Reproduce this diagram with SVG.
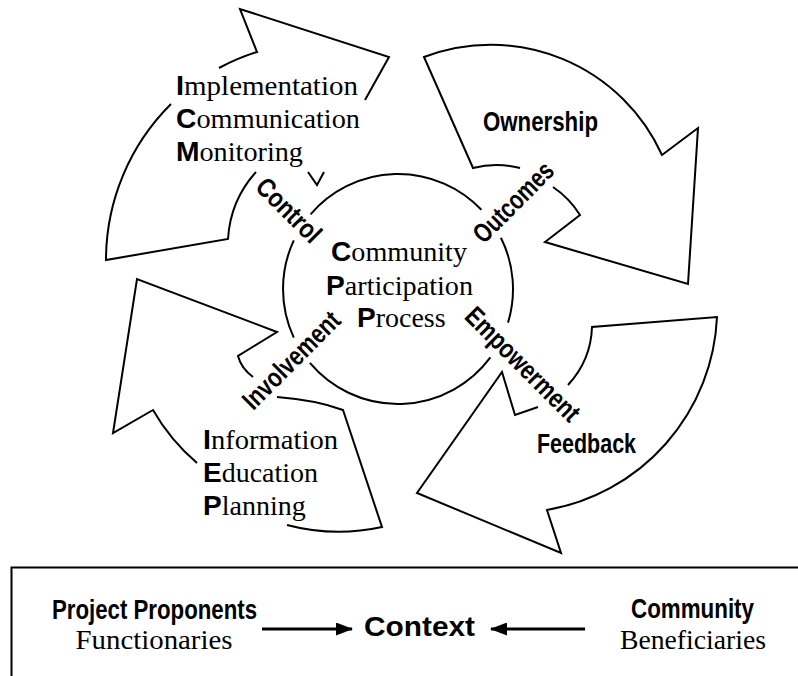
<svg xmlns="http://www.w3.org/2000/svg" width="798" height="676" viewBox="0 0 798 676">
<defs>
<style>
.ln{fill:none;stroke:#000;stroke-width:2;stroke-linejoin:miter}
.ser{font-family:"Liberation Serif","DejaVu Serif",serif;font-size:28px;fill:#000}
.cap{font-family:"Liberation Sans",Arial,sans-serif;font-weight:bold}
.lbl{font-family:"Liberation Sans Narrow","Liberation Sans",Arial,sans-serif;font-weight:bold;font-size:27px;fill:#000}
.bx{fill:none;stroke:#000;stroke-width:2}
.conn{stroke:#000;stroke-width:3;fill:none}
</style>
<marker id="ah" viewBox="0 0 17 13" refX="16" refY="6.5" markerWidth="17" markerHeight="13" markerUnits="userSpaceOnUse" orient="auto">
<path d="M0,0 L17,6.5 L0,13 z" fill="#000"/>
</marker>
</defs>
<rect width="798" height="676" fill="#fff"/>

<g id="control-arrow">
<path class="ln" d="M171,104 A220 220 0 0 0 106,260 L228,239 A110 110 0 0 1 256,172"/>
<path class="ln" d="M219,68 A217 217 0 0 1 257,52 L240,9 L389,57 L365,100"/>
<path class="ln" d="M324,172 L317,185 L308,172"/>
<text class="ser" x="176" y="95" textLength="182" lengthAdjust="spacingAndGlyphs"><tspan class="cap">I</tspan>mplementation</text>
<text class="ser" x="176" y="128" textLength="184" lengthAdjust="spacingAndGlyphs"><tspan class="cap">C</tspan>ommunication</text>
<text class="ser" x="176" y="161" textLength="127" lengthAdjust="spacingAndGlyphs"><tspan class="cap">M</tspan>onitoring</text>
<text class="lbl" transform="translate(289,210) rotate(45)" x="0" y="9.5" text-anchor="middle" textLength="80" lengthAdjust="spacingAndGlyphs">Control</text>
</g>

<g id="outcomes-arrow">
<path class="ln" d="M520,168 A94 94 0 0 0 473,168 L424,57 A188 188 0 0 1 662,155 L698,128 L688,284 L545,242 L580,215 A94 94 0 0 0 553,187"/>
<text class="lbl" x="483" y="131" textLength="115" lengthAdjust="spacingAndGlyphs">Ownership</text>
<text class="lbl" transform="translate(513,202) rotate(-45)" x="0" y="9.5" text-anchor="middle" textLength="102" lengthAdjust="spacingAndGlyphs">Outcomes</text>
</g>

<g id="feedback-arrow">
<path class="ln" d="M568,385 Q591,360 592,327 L717,317 A205 205 0 0 1 547,510 L561,553 L417,493 L502,372 L515,415 L538,407"/>
<text class="lbl" x="537" y="453" textLength="99" lengthAdjust="spacingAndGlyphs">Feedback</text>
<text class="lbl" transform="translate(523,364) rotate(45)" x="0" y="9.5" text-anchor="middle" textLength="150" lengthAdjust="spacingAndGlyphs">Empowerment</text>
</g>

<g id="involvement-arrow">
<path class="ln" d="M253,377 Q241,368 238,356 L277,332 L137,279 L113,433 L153,410 A202 202 0 0 0 197,463"/>
<path class="ln" d="M287,525 A202 202 0 0 0 382,527 L343,410 Q316,400 277,397"/>
<text class="ser" x="203" y="449" textLength="135" lengthAdjust="spacingAndGlyphs"><tspan class="cap">I</tspan>nformation</text>
<text class="ser" x="203" y="482"><tspan class="cap">E</tspan>ducation</text>
<text class="ser" x="203" y="515"><tspan class="cap">P</tspan>lanning</text>
<text class="lbl" transform="translate(291,360) rotate(-45)" x="0" y="9.5" text-anchor="middle" textLength="126" lengthAdjust="spacingAndGlyphs">Involvement</text>
</g>

<g id="cpp-circle">
<path class="ln" d="M310.6,214.3 A115 115 0 0 1 481.4,209.8 M500.9,237.7 A115 115 0 0 1 508,322.6 M490.4,357.4 A115 115 0 0 1 309.9,362.9 M293.8,337.6 A115 115 0 0 1 293.8,240.4"/>
<text class="ser" x="331" y="261" textLength="136" lengthAdjust="spacingAndGlyphs"><tspan class="cap">C</tspan>ommunity</text>
<text class="ser" x="326" y="295" textLength="147" lengthAdjust="spacingAndGlyphs"><tspan class="cap">P</tspan>articipation</text>
<text class="ser" x="357" y="327"><tspan class="cap">P</tspan>rocess</text>
</g>

<g id="context-box">
<path class="bx" d="M11.5,676 V567.5 H798"/>
</g>

<g id="project-proponents">
<text class="lbl" x="52" y="619" font-size="23" textLength="205" lengthAdjust="spacingAndGlyphs">Project Proponents</text>
<text class="ser" x="154" y="649" text-anchor="middle" font-size="27" textLength="157" lengthAdjust="spacingAndGlyphs">Functionaries</text>
</g>

<g id="context">
<text class="lbl" x="364" y="636" font-size="33" textLength="111" lengthAdjust="spacingAndGlyphs">Context</text>
</g>

<g id="community">
<text class="lbl" x="631" y="618" font-size="23" textLength="123" lengthAdjust="spacingAndGlyphs">Community</text>
<text class="ser" x="693" y="649" text-anchor="middle" font-size="27" textLength="146" lengthAdjust="spacingAndGlyphs">Beneficiaries</text>
</g>

<g id="connectors">
<line class="conn" x1="262" y1="629" x2="352" y2="629" marker-end="url(#ah)"/>
<line class="conn" x1="585" y1="629" x2="491" y2="629" marker-end="url(#ah)"/>
</g>
</svg>
